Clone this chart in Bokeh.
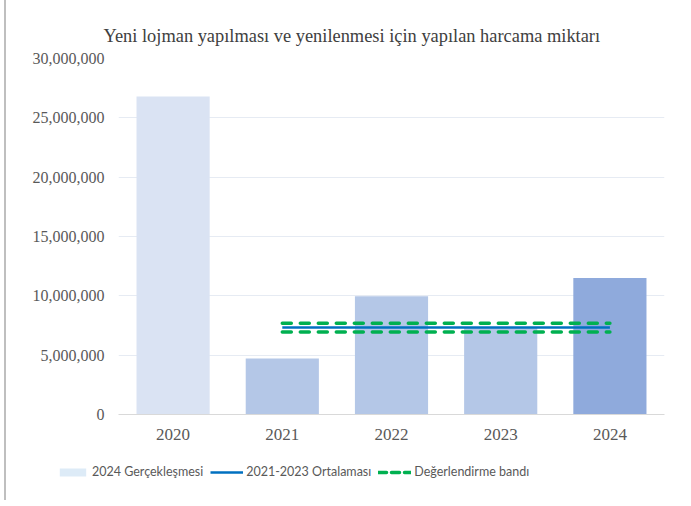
from bokeh.plotting import figure
from bokeh.layouts import column, row
from bokeh.models import (ColumnDataSource, FactorRange, Range1d, FixedTicker,
                          NumeralTickFormatter, Legend, LegendItem)
from bokeh.embed import file_html
from bokeh.resources import INLINE

# ---- data ----
years = ["2020", "2021", "2022", "2023", "2024"]
spend = [26800000, 4720000, 9970000, 7300000, 11500000]
bar_colors = ["#DAE3F3", "#B4C7E7", "#B4C7E7", "#B4C7E7", "#8FAADC"]
line_years = ["2021", "2024"]
avg_2021_2023 = [7330000, 7330000]
band_upper = [7700000, 7700000]
band_lower = [6960000, 6960000]
y_ticks = [0, 5000000, 10000000, 15000000, 20000000, 25000000, 30000000]

title = "Yeni lojman yapılması ve yenilenmesi için yapılan harcama miktarı"
legend_labels = ["2024 Gerçekleşmesi", "2021-2023 Ortalaması", "Değerlendirme bandı"]

LEGEND_PATCH = "#DDEBF7"
BLUE = "#0070C0"
GREEN = "#00B050"

p = figure(x_range=FactorRange(*years, range_padding=0),
           y_range=Range1d(0, 30000000),
           width=677, height=454,
           output_backend="svg", toolbar_location=None,
           min_border_left=112, min_border_right=19,
           min_border_top=58, min_border_bottom=40)
p.outline_line_color = None
p.background_fill_color = "white"

src = ColumnDataSource(dict(x=years, top=spend, color=bar_colors))
p.vbar(x="x", top="top", width=0.67, fill_color="color", line_color=None, source=src)

p.line(line_years, band_upper, line_color=GREEN, line_width=3.5, line_dash="9 9", line_cap="round")
p.line(line_years, band_lower, line_color=GREEN, line_width=3.5, line_dash="9 9", line_cap="round")
p.line(line_years, avg_2021_2023, line_color=BLUE, line_width=2.3)

# title
p.title.text = title
p.title.text_font = "Liberation Serif"
p.title.text_font_size = "18.4px"
p.title.text_font_style = "normal"
p.title.text_color = "#404040"
p.title.align = "left"
p.title.offset = -15
p.title.standoff = 26

# y axis
p.yaxis.ticker = FixedTicker(ticks=y_ticks)
p.yaxis.formatter = NumeralTickFormatter(format="0,0")
p.yaxis.axis_line_color = None
p.yaxis.major_tick_line_color = None
p.yaxis.minor_tick_line_color = None
p.yaxis.major_label_text_font = "Liberation Serif"
p.yaxis.major_label_text_font_size = "16px"
p.yaxis.major_label_text_color = "#595959"
p.yaxis.major_label_standoff = 8

# x axis
p.xaxis.axis_line_color = "#D9D9D9"
p.xaxis.axis_line_width = 1
p.xaxis.major_tick_line_color = None
p.xaxis.minor_tick_line_color = None
p.xaxis.major_label_text_font = "Liberation Serif"
p.xaxis.major_label_text_font_size = "17px"
p.xaxis.major_label_text_color = "#595959"
p.xaxis.major_label_standoff = 8

p.xgrid.grid_line_color = None
p.ygrid.grid_line_color = "#E6EBF3"
p.ygrid.grid_line_width = 1

# ---- legend strip: own figure; key renderers are hidden copies of the series ----
leg = figure(width=677, height=46, x_range=p.x_range, y_range=p.y_range,
             output_backend="svg", toolbar_location=None,
             x_axis_location=None, y_axis_location=None,
             min_border=0, min_border_left=0, min_border_right=0,
             min_border_top=0, min_border_bottom=0)
leg.outline_line_color = None
leg.grid.visible = False
r_patch = leg.vbar(x="x", top="top", width=0.67, fill_color=LEGEND_PATCH,
                   line_color=None, source=src, visible=False)
r_blue = leg.line(line_years, avg_2021_2023, line_color=BLUE, line_width=2.3, visible=False)
r_green = leg.line(line_years, band_upper, line_color=GREEN, line_width=3.5,
                   line_dash="8 5", line_cap="round", visible=False)

legend = Legend(items=[
    LegendItem(label=legend_labels[0], renderers=[r_patch]),
    LegendItem(label=legend_labels[1], renderers=[r_blue]),
    LegendItem(label=legend_labels[2], renderers=[r_green]),
], orientation="horizontal", location=(50, 21))
legend.glyph_width = 33
legend.glyph_height = 10
legend.label_standoff = 3
legend.spacing = 7
legend.padding = 0
legend.margin = 0
legend.border_line_color = None
legend.background_fill_alpha = 0
legend.inactive_fill_alpha = 0
legend.label_text_font = "Lato"
legend.label_text_font_size = "12.5px"
legend.label_text_color = "#595959"
leg.add_layout(legend, "center")

layout = column(p, row(leg), spacing=0,
                styles={"border-left": "2px solid #BFBFBF", "margin-left": "4px"})

open("out.html", "w").write(file_html(layout, INLINE))
